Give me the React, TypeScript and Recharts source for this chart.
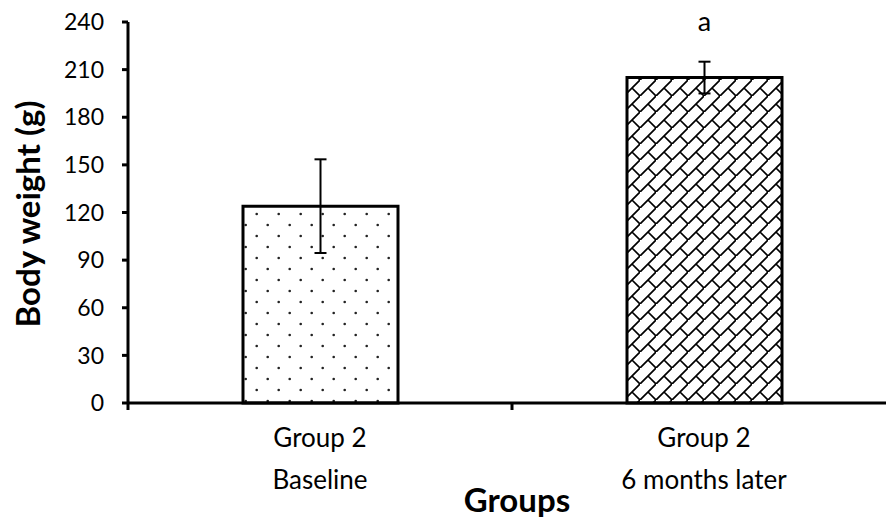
import { BarChart, Bar, XAxis, YAxis, ErrorBar, LabelList, Label, Cell } from "recharts"

const categories = ["Baseline", "6 months later"]
const groupNames = ["Group 2", "Group 2"]
const bodyWeight = [124, 205]
const bodyWeightSd = [29.5, 10]
const sigLetters = ["", "a"]
const fills = ["url(#dotFill)", "url(#brickFill)"]
const yTicks = [0, 30, 60, 90, 120, 150, 180, 210, 240]

const data = categories.map((name, i) => ({
  name,
  group: groupNames[i],
  value: bodyWeight[i],
  sd: bodyWeightSd[i],
  sig: sigLetters[i],
}))

const FONT = "Lato, 'Open Sans', sans-serif"

function CategoryTick(props: any) {
  const { x, y, payload, index } = props
  const half = payload && payload.offset ? payload.offset : 192
  const d = data[index] || data[0]
  return (
    <g>
      <line x1={x - half} y1={y - 1} x2={x - half} y2={y + 7} stroke="#000" strokeWidth={3} />
      <text x={x} y={y + 44} textAnchor="middle" fontSize={26} fontFamily={FONT} fill="#000">
        {d.group}
      </text>
      <text x={x} y={y + 86} textAnchor="middle" fontSize={26} fontFamily={FONT} fill="#000">
        {payload.value}
      </text>
    </g>
  )
}

function SigLabel(props: any) {
  const { x, y, width, value } = props
  if (!value) return null
  return (
    <text x={x + width / 2} y={y - 47} textAnchor="middle" fontSize={27} fontFamily={FONT} fill="#000">
      {value}
    </text>
  )
}

export default function App() {
  return (
    <div style={{ position: "absolute", left: 0, top: 0, width: 886, height: 521, overflow: "hidden", background: "#fff" }}>
      <BarChart width={896} height={521} data={data} margin={{ top: 22, right: 0, bottom: 0, left: 0 }}>
        <defs>
          <pattern id="dotFill" patternUnits="userSpaceOnUse" width={22} height={22} x={0} y={0}>
            <circle cx={14.7} cy={16} r={1.3} fill="#222" />
            <circle cx={3.7} cy={5} r={1.3} fill="#222" />
          </pattern>
          <pattern id="brickFill" patternUnits="userSpaceOnUse" width={16} height={16}>
            <rect width={16} height={16} fill="#fff" />
            <path d="M-2,18 L18,-2 M8,8 L16,16" stroke="#000" strokeWidth={1.7} fill="none" />
          </pattern>
        </defs>
        <XAxis
          dataKey="name"
          height={118}
          axisLine={{ stroke: "#000", strokeWidth: 3 }}
          tickLine={false}
          tickSize={0}
          tickMargin={0}
          interval={0}
          tick={<CategoryTick />}
        >
          <Label
            content={() => (
              <text x={517} y={512} textAnchor="middle" fontSize={33} fontWeight="bold" fontFamily={FONT} fill="#000">
                Groups
              </text>
            )}
          />
        </XAxis>
        <YAxis
          width={128}
          domain={[0, 240]}
          ticks={yTicks}
          interval={0}
          axisLine={{ stroke: "#000", strokeWidth: 3 }}
          tickLine={{ stroke: "#000", strokeWidth: 3 }}
          tickSize={6}
          tickMargin={18}
          tick={{ fontSize: 23, fontFamily: FONT, fill: "#000" }}
        >
          <Label
            content={() => (
              <text
                x={0}
                y={0}
                transform="translate(40,214) rotate(-90)"
                textAnchor="middle"
                fontSize={33}
                fontWeight="bold"
                fontFamily={FONT}
                fill="#000"
              >
                Body weight (g)
              </text>
            )}
          />
        </YAxis>
        <Bar dataKey="value" barSize={155} stroke="#000" strokeWidth={3} isAnimationActive={false}>
          {data.map((d, i) => (
            <Cell key={d.name} fill={fills[i]} />
          ))}
          <ErrorBar dataKey="sd" width={6} stroke="#000" strokeWidth={2} isAnimationActive={false} />
          <LabelList dataKey="sig" content={<SigLabel />} />
        </Bar>
      </BarChart>
    </div>
  )
}
